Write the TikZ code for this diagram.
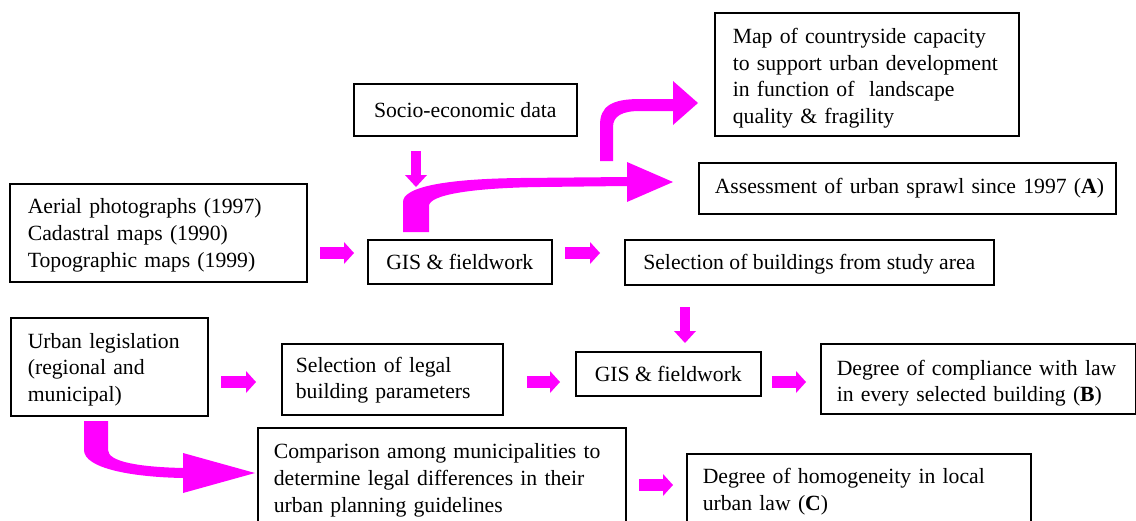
\documentclass[tikz,border=0pt]{standalone}
\usepackage{fontspec}
\setmainfont{Liberation Serif}
\usetikzlibrary{arrows.meta}
\definecolor{mag}{HTML}{FF00FF}
\begin{document}
\begin{tikzpicture}[x=1pt,y=-1pt,
  box/.style={draw, line width=1.6pt, rectangle, anchor=north west,
    font=\fontsize{21.7}{26.8}\selectfont, inner sep=0pt},
  lbox/.style={box, align=left},
  cbox/.style={box, align=center},
  down/.style={execute at begin node={\rule{0pt}{#1}}},
  barrow/.style={draw=mag, line width=12pt,
    -{Triangle[length=10pt,width=22pt,line width=0pt,fill=mag]}},
  darrow/.style={draw=mag, line width=10pt,
    -{Triangle[length=12pt,width=22pt,line width=0pt,fill=mag]}},
  bigarrow/.style={fill=mag, draw=none}]
\useasboundingbox (0,0) rectangle (1136,520);

% boxes
\node[lbox, down=20pt, minimum width=297pt, minimum height=98pt, text width=261pt] (src) at (9,183)
  {Aerial photographs (1997)\\Cadastral maps (1990)\\Topographic maps (1999)};
\node[cbox, minimum width=223pt, minimum height=52pt] (socio) at (353,83) {Socio-economic data};
\node[lbox, down=23pt, minimum width=304pt, minimum height=123pt, text width=268pt] (map) at (714,12)
  {Map of countryside capacity\\to support urban development\\in function of~ landscape\\quality \& fragility};
\node[lbox, minimum width=417pt, minimum height=51pt, text width=385pt] (assess) at (698,162)
  {\mbox{Assessment of urban sprawl since 1997 (\textbf{A})}};
\node[cbox, minimum width=184pt, minimum height=44pt] (gis1) at (367,239) {GIS \& fieldwork};
\node[cbox, down=20pt, minimum width=369pt, minimum height=45pt] (selb) at (624,239) {Selection of buildings from study area};
\node[lbox, down=21pt, minimum width=197pt, minimum height=98pt, text width=163pt] (urban) at (10,317)
  {Urban legislation\\(regional and\\municipal)};
\node[lbox, down=17pt, minimum width=221pt, minimum height=71pt, text width=193pt] (legal) at (281,343)
  {Selection of legal\\building parameters};
\node[cbox, minimum width=185pt, minimum height=44pt] (gis2) at (575,351) {GIS \& fieldwork};
\node[lbox, down=24pt, minimum width=315pt, minimum height=70pt, text width=283pt] (comp) at (820,343)
  {Degree of compliance with law\\in every selected building (\textbf{B})};
\node[lbox, down=20pt, minimum width=368pt, minimum height=100pt, text width=336pt] (cmpr) at (257,427)
  {Comparison among municipalities to\\determine legal differences in their\\urban planning guidelines};
\node[lbox, minimum width=344pt, minimum height=76pt, text width=312pt] (homog) at (686,453)
  {Degree of homogeneity in local\\urban law (\textbf{C})};

% small block arrows
\coordinate (a1s) at (320,253); \coordinate (a1e) at (354,253);
\coordinate (a2s) at (565,253); \coordinate (a2e) at (600,253);
\coordinate (a3s) at (416,151); \coordinate (a3e) at (416,187);
\coordinate (a4s) at (685,307); \coordinate (a4e) at (685,343);
\coordinate (a5s) at (221,382); \coordinate (a5e) at (256,382);
\coordinate (a6s) at (527,382); \coordinate (a6e) at (560,382);
\coordinate (a7s) at (772,382); \coordinate (a7e) at (806,382);
\coordinate (a8s) at (639,485); \coordinate (a8e) at (673,485);
\draw[barrow] (a1s) -- (a1e);
\draw[barrow] (a2s) -- (a2e);
\draw[darrow] (a3s) -- (a3e);
\draw[darrow] (a4s) -- (a4e);
\draw[barrow] (a5s) -- (a5e);
\draw[barrow] (a6s) -- (a6e);
\draw[barrow] (a7s) -- (a7e);
\draw[barrow] (a8s) -- (a8e);

% big curved arrows
% GIS -> Assessment (A)
\fill[bigarrow] (403,232) -- (403,202) .. controls (403,188) and (440,179) .. (520,178)
  -- (627,177) -- (627,162) -- (673,182) -- (627,202) -- (627,186) -- (540,187)
  .. controls (470,188) and (429,195) .. (429,206) -- (429,232) -- cycle;
% -> Map
\fill[bigarrow] (600,161) -- (600,125) .. controls (600,106) and (612,99) .. (640,99)
  -- (673,99) -- (673,81) -- (698,103) -- (673,125) -- (673,111) -- (640,111)
  .. controls (622,111) and (613,116) .. (613,127) -- (613,161) -- cycle;
% Urban legislation -> Comparison
\fill[bigarrow] (84,421) -- (84,450) .. controls (84,468) and (130,477) .. (183,478)
  -- (183,493) -- (255,473) -- (183,453) -- (183,468)
  .. controls (140,467) and (108,462) .. (108,450) -- (108,421) -- cycle;
\end{tikzpicture}
\end{document}
